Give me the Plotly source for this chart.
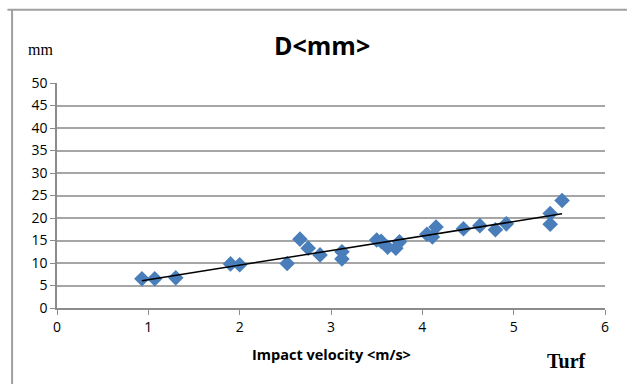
import numpy as np
import plotly.graph_objects as go

velocity = [0.93, 1.07, 1.30, 1.90, 2.00, 2.52, 2.66, 2.75, 2.88, 3.12, 3.12,
            3.50, 3.55, 3.62, 3.71, 3.75, 4.05, 4.11, 4.15, 4.45, 4.63, 4.80,
            4.92, 5.40, 5.40, 5.53]
diameter = [6.5, 6.5, 6.7, 9.8, 9.6, 9.9, 15.3, 13.3, 11.8, 12.5, 10.9,
            15.1, 14.8, 13.5, 13.3, 14.7, 16.4, 15.8, 18.0, 17.6, 18.3, 17.4,
            18.7, 21.0, 18.6, 23.9]
x_ticks = [0, 1, 2, 3, 4, 5, 6]
y_ticks = [0, 5, 10, 15, 20, 25, 30, 35, 40, 45, 50]

slope, intercept = np.polyfit(velocity, diameter, 1)
trend_x = [min(velocity), max(velocity)]
trend_y = [slope * v + intercept for v in trend_x]

sans = "'Open Sans', Lato, sans-serif"
serif = "'Liberation Serif', 'DejaVu Serif', serif"

fig = go.Figure()
fig.add_trace(go.Scatter(
    x=velocity, y=diameter, mode="markers",
    marker=dict(symbol="diamond", size=12, color="#4a7ebb",
                line=dict(width=0)),
    showlegend=False))
fig.add_trace(go.Scatter(
    x=trend_x, y=trend_y, mode="lines",
    line=dict(color="black", width=1.5), showlegend=False))

fig.update_layout(
    width=630, height=384,
    margin=dict(l=57, r=25, t=83, b=76),
    paper_bgcolor="white", plot_bgcolor="white",
    xaxis=dict(range=[0, 6], tickvals=x_ticks, showgrid=False,
               showline=True, linecolor="#8c8c8c", linewidth=1.5,
               ticks="outside", ticklen=5, tickcolor="#8c8c8c",
               tickfont=dict(family=sans, size=14, color="#000"),
               zeroline=False, fixedrange=True),
    yaxis=dict(range=[0, 50], tickvals=y_ticks, showgrid=True,
               gridcolor="#a6a6a6", gridwidth=1.5,
               showline=True, linecolor="#8c8c8c", linewidth=1.5,
               ticks="outside", ticklen=5, tickcolor="#8c8c8c",
               tickfont=dict(family=sans, size=14, color="#000"),
               zeroline=False, fixedrange=True),
    shapes=[
        dict(type="line", xref="paper", yref="paper", x0=-0.0905, x1=1.04,
             y0=1.326, y1=1.326, line=dict(color="#a0a0a0", width=2)),
        dict(type="line", xref="paper", yref="paper", x0=-0.082, x1=-0.082,
             y0=1.326, y1=-0.34, line=dict(color="#a0a0a0", width=2)),
    ],
    annotations=[
        dict(text="<b>D&lt;mm&gt;</b>", xref="paper", yref="paper",
             x=0.483, y=1.17, xanchor="center", yanchor="middle",
             showarrow=False, font=dict(family=sans, size=25, color="black")),
        dict(text="mm", xref="paper", yref="paper", x=-0.057, y=1.15,
             xanchor="left", yanchor="middle", showarrow=False,
             font=dict(family=serif, size=16, color="black")),
        dict(text="<b>Impact velocity &lt;m/s&gt;</b>", xref="paper",
             yref="paper", x=0.5, y=-0.208, xanchor="center",
             yanchor="middle", showarrow=False,
             font=dict(family=sans, size=14.5, color="black")),
        dict(text="<b>Turf</b>", xref="paper", yref="paper", x=0.93,
             y=-0.235, xanchor="center", yanchor="middle", showarrow=False,
             font=dict(family=serif, size=20, color="black")),
    ],
)

fig.write_html("out.html")
